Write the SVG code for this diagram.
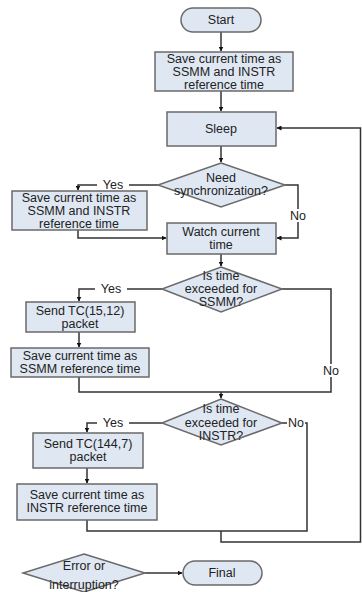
<svg xmlns="http://www.w3.org/2000/svg" width="362" height="592" viewBox="0 0 362 592">
<style>
.n{fill:#dfe7f2;stroke:#6a6a6a;stroke-width:1.5}
.t{font-family:"Liberation Sans",Arial,sans-serif;font-size:12.5px;fill:#222;text-anchor:middle}
.c{fill:none;stroke:#333;stroke-width:1.5}
.lb{font-family:"Liberation Sans",Arial,sans-serif;font-size:12.5px;fill:#222;text-anchor:middle}
</style>
<defs>
<marker id="a" viewBox="0 0 10 10" refX="9" refY="5" markerWidth="5" markerHeight="5" orient="auto" markerUnits="userSpaceOnUse">
<path d="M0,0 L10,5 L0,10 z" fill="#111"/>
</marker>
</defs>
<rect width="362" height="592" fill="#fff"/>
<g id="connectors">
<path class="c" d="M221,32 V51" marker-end="url(#a)"/>
<path class="c" d="M221,91 V111" marker-end="url(#a)"/>
<path class="c" d="M221,146 V162" marker-end="url(#a)"/>
<path class="c" d="M158,185 H78 V190" marker-end="url(#a)"/>
<path class="c" d="M285,185 H298 V238 H277" marker-end="url(#a)"/>
<path class="c" d="M78,230 V238 H166" marker-end="url(#a)"/>
<path class="c" d="M221,254 V266" marker-end="url(#a)"/>
<path class="c" d="M162,289 H79 V301" marker-end="url(#a)"/>
<path class="c" d="M79,332 V347" marker-end="url(#a)"/>
<path class="c" d="M79,377 V392 H331 V289 H282"/>
<path class="c" d="M221,392 V398" marker-end="url(#a)"/>
<path class="c" d="M162,423 H87 V432" marker-end="url(#a)"/>
<path class="c" d="M87,468 V483" marker-end="url(#a)"/>
<path class="c" d="M87,520 V531 H307 V423 H282"/>
<path class="c" d="M221,531 V542 H360.5 V128 H277" marker-end="url(#a)"/>
<path class="c" d="M145,573 H182" marker-end="url(#a)"/>
<rect x="97" y="180" width="32" height="11" fill="#fff"/>
<text class="lb" x="113" y="189">Yes</text>
<rect x="287" y="209" width="22" height="13" fill="#fff"/>
<text class="lb" x="298" y="220">No</text>
<rect x="95" y="284" width="32" height="11" fill="#fff"/>
<text class="lb" x="111" y="293">Yes</text>
<rect x="320" y="364" width="22" height="13" fill="#fff"/>
<text class="lb" x="331" y="375">No</text>
<rect x="97" y="418" width="32" height="11" fill="#fff"/>
<text class="lb" x="113" y="427">Yes</text>
<rect x="287" y="418" width="18" height="11" fill="#fff"/>
<text class="lb" x="296" y="427">No</text>
</g>
<g id="start">
<rect class="n" x="181" y="8" width="80" height="24" rx="12"/>
<text class="t" x="221" y="24">Start</text>
</g>
<g id="save-both-1">
<rect class="n" x="155" y="52" width="138" height="39"/>
<text class="t" x="224" y="62.5">Save current time as</text>
<text class="t" x="224" y="75.5">SSMM and INSTR</text>
<text class="t" x="224" y="88.5">reference time</text>
</g>
<g id="sleep">
<rect class="n" x="167" y="112" width="109" height="34"/>
<text class="t" x="221" y="133">Sleep</text>
</g>
<g id="need-sync">
<polygon class="n" points="221,163 285,185 221,207 158,185"/>
<text class="t" x="221" y="182">Need</text>
<text class="t" x="221" y="195">synchronization?</text>
</g>
<g id="save-both-2">
<rect class="n" x="12" y="191" width="135" height="39"/>
<text class="t" x="79" y="201.5">Save current time as</text>
<text class="t" x="79" y="214.5">SSMM and INSTR</text>
<text class="t" x="79" y="227.5">reference time</text>
</g>
<g id="watch">
<rect class="n" x="167" y="223" width="109" height="31"/>
<text class="t" x="221" y="236">Watch current</text>
<text class="t" x="221" y="249">time</text>
</g>
<g id="ssmm-exceeded">
<polygon class="n" points="221,267 282,289 221,312 162,289"/>
<text class="t" x="221" y="280">Is time</text>
<text class="t" x="221" y="293">exceeded for</text>
<text class="t" x="221" y="306">SSMM?</text>
</g>
<g id="send-15-12">
<rect class="n" x="26" y="302" width="109" height="30"/>
<text class="t" x="80" y="315">Send TC(15,12)</text>
<text class="t" x="80" y="328">packet</text>
</g>
<g id="save-ssmm">
<rect class="n" x="11" y="348" width="138" height="29"/>
<text class="t" x="80" y="360">Save current time as</text>
<text class="t" x="80" y="373">SSMM reference time</text>
</g>
<g id="instr-exceeded">
<polygon class="n" points="221,399 282,423 221,445 162,423"/>
<text class="t" x="221" y="413">Is time</text>
<text class="t" x="221" y="427">exceeded for</text>
<text class="t" x="221" y="440">INSTR?</text>
</g>
<g id="send-144-7">
<rect class="n" x="33" y="433" width="110" height="35"/>
<text class="t" x="88" y="448">Send TC(144,7)</text>
<text class="t" x="88" y="461">packet</text>
</g>
<g id="save-instr">
<rect class="n" x="17" y="484" width="140" height="36"/>
<text class="t" x="87" y="499">Save current time as</text>
<text class="t" x="87" y="512">INSTR reference time</text>
</g>
<g id="error">
<polygon class="n" points="84,554 145,573 84,592 23,573"/>
<text class="t" x="84" y="570">Error or</text>
<text class="t" x="84" y="589">interruption?</text>
</g>
<g id="final">
<rect class="n" x="183" y="561" width="79" height="24" rx="12"/>
<text class="t" x="222" y="577">Final</text>
</g>
</svg>
